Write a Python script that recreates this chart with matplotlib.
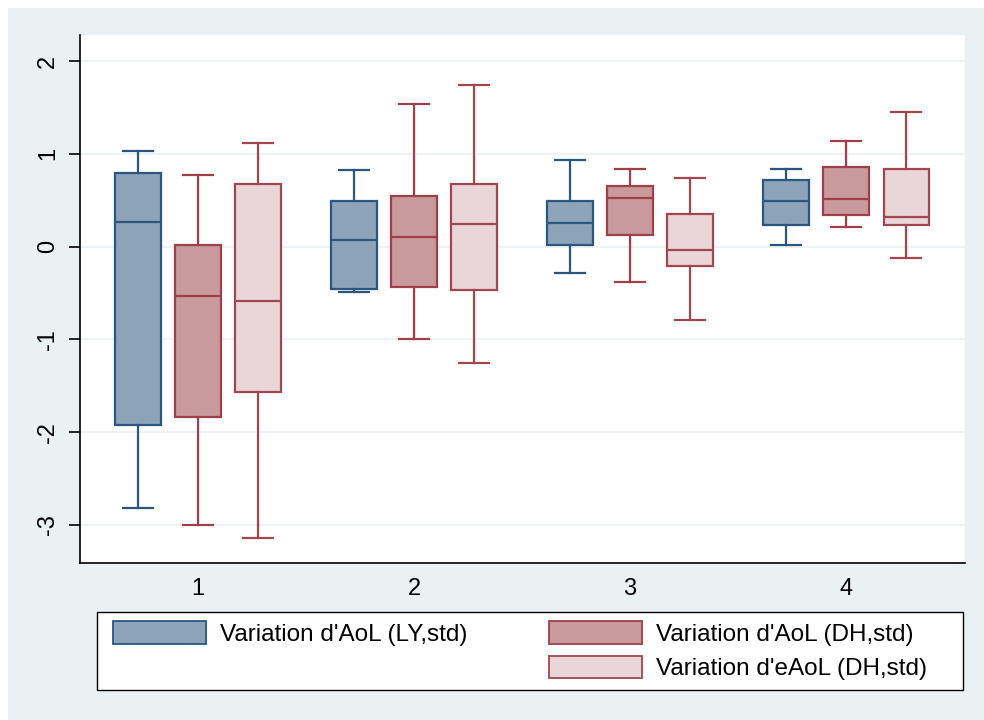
import matplotlib
matplotlib.use("Agg")
import matplotlib.pyplot as plt
from matplotlib import font_manager
from matplotlib.patches import Rectangle

# police étroite type Arial Narrow si disponible
noms = {f.name for f in font_manager.fontManager.ttflist}
police = 'Liberation Sans Narrow' if 'Liberation Sans Narrow' in noms else 'Liberation Sans'
plt.rcParams['font.family'] = [police, 'DejaVu Sans']
plt.rcParams['axes.unicode_minus'] = False

# valeurs (min, q1, médiane, q3, max)
groupes = [1, 2, 3, 4]
series = ["Variation d'AoL (LY,std)", "Variation d'AoL (DH,std)", "Variation d'eAoL (DH,std)"]

ly_min = [-2.82, -0.49, -0.28, 0.02]
ly_q1 = [-1.92, -0.46, 0.02, 0.23]
ly_med = [0.26, 0.07, 0.25, 0.49]
ly_q3 = [0.79, 0.49, 0.49, 0.72]
ly_max = [1.03, 0.82, 0.93, 0.84]

dh_min = [-3.00, -1.00, -0.385, 0.21]
dh_q1 = [-1.84, -0.44, 0.126, 0.34]
dh_med = [-0.53, 0.10, 0.525, 0.51]
dh_q3 = [0.02, 0.54, 0.65, 0.86]
dh_max = [0.77, 1.54, 0.84, 1.14]

edh_min = [-3.14, -1.26, -0.79, -0.12]
edh_q1 = [-1.57, -0.47, -0.21, 0.23]
edh_med = [-0.59, 0.24, -0.036, 0.32]
edh_q3 = [0.67, 0.67, 0.35, 0.84]
edh_max = [1.12, 1.74, 0.74, 1.45]

donnees = [
    (ly_min, ly_q1, ly_med, ly_q3, ly_max),
    (dh_min, dh_q1, dh_med, dh_q3, dh_max),
    (edh_min, edh_q1, edh_med, edh_q3, edh_max),
]
remplissage = ['#8ca3b8', '#c89a9c', '#e9d6d8']
contour = ['#2a5680', '#9e3f49', '#a2474f']
decalage = [-0.278, 0.0, 0.278]
largeur = 0.21

fig = plt.figure(figsize=(9.84, 7.2), dpi=100)
fig.patch.set_facecolor('white')
fig.patches.append(Rectangle((8 / 984, 0), 1, 1 - 8 / 720, transform=fig.transFigure,
                             facecolor='#eaf1f3', edgecolor='none', zorder=-10))

ax = fig.add_axes([80 / 984, 1 - 563 / 720, (965 - 80) / 984, (563 - 35) / 720])
ax.set_facecolor('white')

for k, (mn, q1, med, q3, mx) in enumerate(donnees):
    stats = []
    for i in range(len(groupes)):
        stats.append({'whislo': mn[i], 'q1': q1[i], 'med': med[i], 'q3': q3[i],
                      'whishi': mx[i], 'fliers': []})
    pos = [g + decalage[k] for g in groupes]
    ax.bxp(stats, positions=pos, widths=largeur, capwidths=largeur * 0.67,
           patch_artist=True, showfliers=False, manage_ticks=False,
           boxprops=dict(facecolor=remplissage[k], edgecolor=contour[k], linewidth=1.6),
           medianprops=dict(color=contour[k], linewidth=1.6),
           whiskerprops=dict(color=contour[k], linewidth=1.6),
           capprops=dict(color=contour[k], linewidth=1.6))

ax.set_xlim(0.454, 4.55)
ax.set_ylim(-3.41, 2.28)
ax.set_yticks([-3, -2, -1, 0, 1, 2])
ax.set_xticks(groupes)
ax.set_xticklabels([str(g) for g in groupes])
ax.tick_params(axis='y', labelrotation=90, labelsize=17, length=8, width=1.2, pad=7)
ax.tick_params(axis='x', labelsize=17, length=0, pad=11)
for lab in ax.get_yticklabels():
    lab.set_va('center')
ax.grid(axis='y', color='#eaf1f3', linewidth=1.2)
ax.set_axisbelow(True)
ax.spines['top'].set_visible(False)
ax.spines['right'].set_visible(False)
ax.spines['left'].set_linewidth(1.2)
ax.spines['bottom'].set_linewidth(1.2)

# cadre de la légende
fig.patches.append(Rectangle((97 / 984, 1 - 690 / 720), (963 - 97) / 984, 78 / 720,
                             transform=fig.transFigure, facecolor='white',
                             edgecolor='black', linewidth=1.0, zorder=1))

# légende sur deux colonnes
poignees = []
for k in range(3):
    poignees.append(Rectangle((0, 0), 1, 1, facecolor=remplissage[k], edgecolor=contour[k], linewidth=1.3))
vide = Rectangle((0, 0), 1, 1, facecolor='none', edgecolor='none')
leg = fig.legend([poignees[0], vide, poignees[1], poignees[2]],
                 [series[0], '', series[1], series[2]],
                 ncol=2, loc='upper left', bbox_to_anchor=(113 / 984, 1 - 621 / 720),
                 fontsize=17.5, handlelength=3.83, handleheight=1.05, handletextpad=0.58,
                 labelspacing=0.42, columnspacing=3.33, borderpad=0, borderaxespad=0,
                 frameon=False)

fig.savefig('out.png', dpi=100, facecolor=fig.get_facecolor())
